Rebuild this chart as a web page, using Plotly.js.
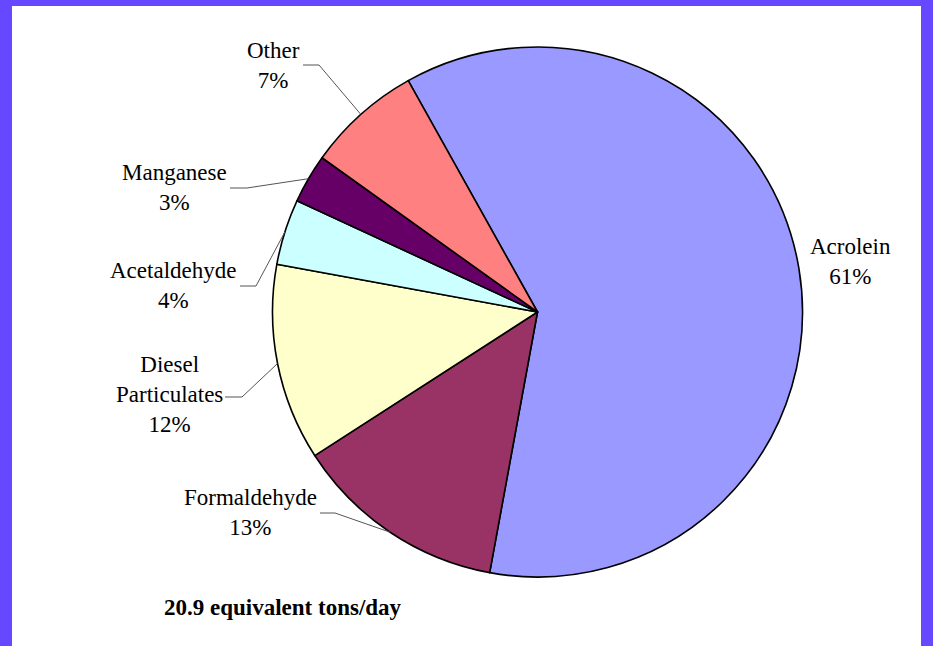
<!DOCTYPE html>
<html>
<head>
<meta charset="utf-8">
<script src="https://cdn.plot.ly/plotly-3.0.1.min.js"></script>
<style>
  html, body { margin: 0; padding: 0; background: #6548FF; }
  #chart { width: 933px; height: 646px; }
</style>
</head>
<body>
<div id="chart"></div>
<script>
// ---- data ----
var categories = ['Acrolein', 'Formaldehyde', 'Diesel Particulates', 'Acetaldehyde', 'Manganese', 'Other'];
var displayNames = ['Acrolein', 'Formaldehyde', 'Diesel<br>Particulates', 'Acetaldehyde', 'Manganese', 'Other'];
var shares = [61, 13, 12, 4, 3, 7];
var sliceColors = ['#9999FF', '#993366', '#FFFFCC', '#CCFFFF', '#660066', '#FF8080'];
var footnote = '20.9 equivalent tons/day';

// ---- layout helpers (pixel positions in the 933x646 page) ----
var W = 933, H = 646;
var CX = 537.5, CY = 312, R = 265;
var ROT = -29.2;
function px(x) { return x / W; }
function py(y) { return 1 - y / H; }

// label block centres [x, y]
var labelPos = [[850, 261], [250, 512.5], [169, 395], [172.5, 285], [174.5, 187.5], [273, 65]];
// leader start & elbow points (null = no leader)
var leaderStart = [null, [[320, 513], [335, 513]], [[225, 397], [242, 397]], [[240, 286], [256, 286]], [[230, 188], [247, 188]], [[303, 65], [319, 65]]];

var total = shares.reduce(function (a, b) { return a + b; }, 0);
var annotations = [];
var shapes = [{
  type: 'rect', xref: 'paper', yref: 'paper', layer: 'below',
  x0: px(12), x1: px(921), y0: 0, y1: py(6),
  fillcolor: '#FFFFFF', line: { width: 0 }
}];

var cum = 0;
categories.forEach(function (c, i) {
  var pct = Math.round(shares[i] / total * 100) + '%';
  annotations.push({
    xref: 'paper', yref: 'paper', x: px(labelPos[i][0]), y: py(labelPos[i][1]),
    xanchor: 'center', yanchor: 'middle', showarrow: false, align: 'center',
    text: displayNames[i] + '<br>' + pct,
    font: { family: 'Liberation Serif, Times New Roman, serif', size: 23, color: '#000000' }
  });
  var midDeg = ROT + (cum + shares[i] / 2) / total * 360;
  cum += shares[i];
  if (leaderStart[i]) {
    var a = midDeg * Math.PI / 180;
    var ex = CX + R * Math.sin(a), ey = CY - R * Math.cos(a);
    var p0 = leaderStart[i][0], p1 = leaderStart[i][1];
    shapes.push({
      type: 'path', xref: 'paper', yref: 'paper', layer: 'above',
      path: 'M ' + px(p0[0]) + ',' + py(p0[1]) + ' L ' + px(p1[0]) + ',' + py(p1[1]) + ' L ' + px(ex) + ',' + py(ey),
      line: { color: '#555555', width: 1 }
    });
  }
});

annotations.push({
  xref: 'paper', yref: 'paper', x: px(283), y: py(607),
  xanchor: 'center', yanchor: 'middle', showarrow: false,
  text: '<b>' + footnote + '</b>',
  font: { family: 'Liberation Serif, Times New Roman, serif', size: 23, color: '#000000' }
});

var trace = {
  type: 'pie',
  labels: categories,
  values: shares,
  sort: false,
  direction: 'clockwise',
  rotation: ROT,
  textinfo: 'none',
  hoverinfo: 'skip',
  marker: { colors: sliceColors, line: { color: '#000000', width: 1.6 } },
  domain: { x: [px(CX - R), px(CX + R)], y: [py(CY + R), py(CY - R)] }
};

var layout = {
  width: W, height: H,
  margin: { l: 0, r: 0, t: 0, b: 0 },
  paper_bgcolor: '#6548FF',
  showlegend: false,
  annotations: annotations,
  shapes: shapes
};

Plotly.newPlot('chart', [trace], layout, { staticPlot: true, displayModeBar: false });
</script>
</body>
</html>
